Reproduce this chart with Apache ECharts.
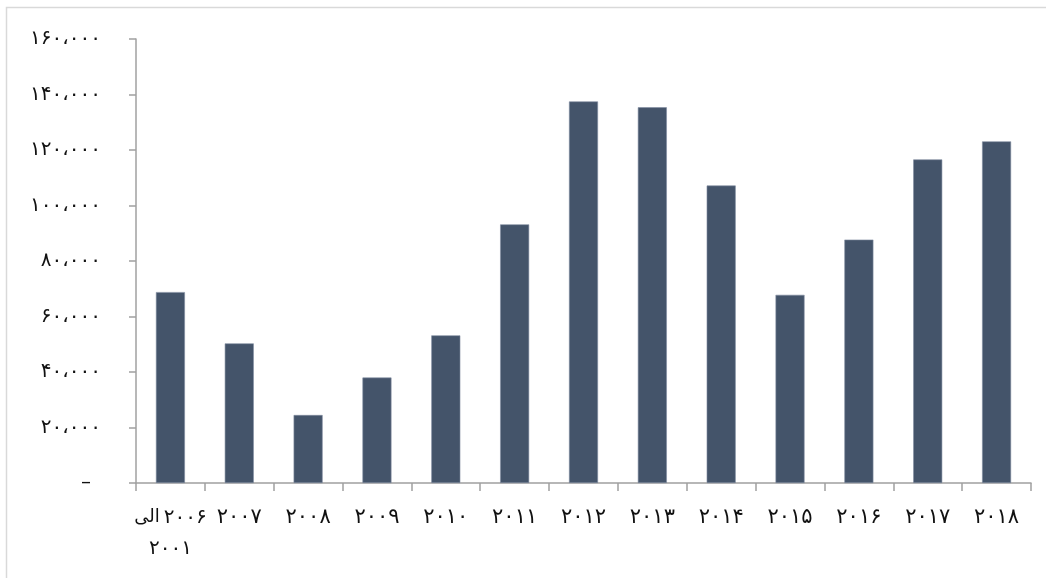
<!DOCTYPE html>
<html>
<head>
<meta charset="utf-8">
<script src="https://cdn.jsdelivr.net/npm/echarts@6/dist/echarts.min.js"></script>
<style>
html,body{margin:0;padding:0;background:#fff;}
#chart{width:1046px;height:578px;}
</style>
</head>
<body>
<div id="chart"></div>
<script>
const categories = ['الى\u200E ۲۰۰۶\n۲۰۰۱', '۲۰۰۷', '۲۰۰۸', '۲۰۰۹', '۲۰۱۰', '۲۰۱۱', '۲۰۱۲', '۲۰۱۳', '۲۰۱۴', '۲۰۱۵', '۲۰۱۶', '۲۰۱۷', '۲۰۱۸'];
const values = [68800, 50300, 24500, 38000, 53200, 93200, 137500, 135400, 107200, 67800, 87700, 116600, 123100];
const yTicks = [0, 20000, 40000, 60000, 80000, 100000, 120000, 140000, 160000];

function toArabicDigits(s) {
  return String(s).replace(/[0-9]/g, d => String.fromCharCode(0x06F0 + Number(d)));
}
function fmt(v) {
  if (v === 0) return '{z|–}';
  const s = String(v).replace(/\B(?=(\d{3})+(?!\d))/g, '\u060C');
  return toArabicDigits(s);
}
function xfmt(v) {
  if (v.indexOf('الى') >= 0) {
    const lines = v.split('\n');
    const first = lines[0].replace('\u200E', '').split(' ');
    return '{a|' + first[0] + '}{b|' + first[1] + '}\n{b|' + lines[1] + '}';
  }
  return v;
}

const chart = echarts.init(document.getElementById('chart'), null, {renderer: 'canvas'});
const font = "'DejaVu Sans', sans-serif";
chart.setOption({
  animation: false,
  backgroundColor: '#ffffff',
  graphic: [{
    type: 'rect',
    shape: {x: 6.5, y: 7.5, width: 1060, height: 600},
    style: {fill: 'none', stroke: '#d9d9d9', lineWidth: 1.5},
    silent: true
  }],
  grid: {left: 136, right: 15, top: 39, bottom: 95, containLabel: false},
  xAxis: {
    type: 'category',
    data: categories,
    axisLine: {show: true, lineStyle: {color: '#a0a0a0', width: 1.5}},
    axisTick: {show: true, alignWithLabel: false, length: 8, lineStyle: {color: '#a0a0a0', width: 1.5}},
    axisLabel: {
      color: '#111',
      fontFamily: font,
      fontSize: 21,
      margin: 19,
      lineHeight: 31,
      interval: 0,
      formatter: xfmt,
      rich: {
        a: {fontFamily: font, fontSize: 18, color: '#111', lineHeight: 31, padding: [0, 4, 0, 0]},
        b: {fontFamily: font, fontSize: 20, color: '#111', lineHeight: 31}
      }
    }
  },
  yAxis: {
    type: 'value',
    min: yTicks[0],
    max: yTicks[yTicks.length - 1],
    interval: yTicks[1] - yTicks[0],
    splitLine: {show: false},
    axisLine: {show: true, lineStyle: {color: '#a0a0a0', width: 1.5}},
    axisTick: {show: true, length: 7, lineStyle: {color: '#a0a0a0', width: 1.5}},
    axisLabel: {
      color: '#111',
      fontFamily: font,
      fontSize: 20,
      margin: 35,
      formatter: fmt,
      rich: {z: {fontFamily: font, fontSize: 20, color: '#111', padding: [0, 10, 0, 0]}}
    }
  },
  series: [{
    type: 'bar',
    data: values,
    barWidth: 29,
    itemStyle: {color: '#44546a', borderColor: '#7f8ca0', borderWidth: 0.6}
  }]
});
</script>
</body>
</html>
